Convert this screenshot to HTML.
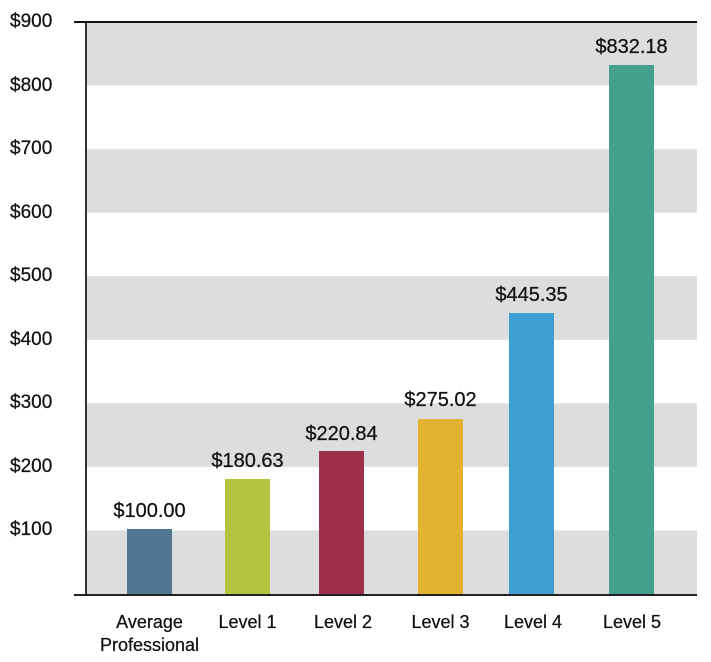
<!DOCTYPE html>
<html><head><meta charset="utf-8"><style>
html,body{margin:0;padding:0;background:#fff;}
svg{display:block;}
text{font-family:"Liberation Sans",sans-serif;fill:#111;stroke:#111;stroke-width:0.25;}
</style></head><body>
<svg width="711" height="662" viewBox="0 0 711 662" xmlns="http://www.w3.org/2000/svg">
<rect x="0" y="0" width="711" height="662" fill="#fff"/>
<g fill="#dcdddf">
<rect x="86" y="22" width="611" height="63.5"/>
<rect x="86" y="149.1" width="611" height="63.5"/>
<rect x="86" y="276.2" width="611" height="63.6"/>
<rect x="86" y="403.3" width="611" height="63.6"/>
<rect x="86" y="530.4" width="611" height="63.6"/>
</g>
<g font-size="19">
<text x="10" y="27">$900</text>
<text x="10" y="91">$800</text>
<text x="10" y="154">$700</text>
<text x="10" y="218">$600</text>
<text x="10" y="281">$500</text>
<text x="10" y="345">$400</text>
<text x="10" y="408">$300</text>
<text x="10" y="472">$200</text>
<text x="10" y="535">$100</text>
</g>
<rect x="127" y="529" width="45" height="65" fill="#4f7792"/>
<rect x="225" y="479" width="45" height="115" fill="#b5c43e"/>
<rect x="319" y="451" width="45" height="143" fill="#9e2f4d"/>
<rect x="418" y="419" width="45" height="175" fill="#e2b230"/>
<rect x="509" y="313" width="45" height="281" fill="#3d9fd2"/>
<rect x="609" y="65" width="45" height="529" fill="#44a08c"/>
<g font-size="20" text-anchor="middle">
<text x="149.5" y="517">$100.00</text>
<text x="247.5" y="467">$180.63</text>
<text x="341.5" y="440">$220.84</text>
<text x="440.5" y="406">$275.02</text>
<text x="531.5" y="301">$445.35</text>
<text x="631.5" y="53">$832.18</text>
</g>
<rect x="85" y="22" width="2" height="572" fill="#333"/>
<rect x="74" y="21" width="623" height="2" fill="#111"/>
<rect x="74" y="594" width="623" height="2" fill="#222"/>
<g font-size="18" text-anchor="middle">
<text x="149.5" y="628">Average</text>
<text x="149.5" y="651">Professional</text>
<text x="247.5" y="628">Level 1</text>
<text x="343" y="628">Level 2</text>
<text x="440.5" y="628">Level 3</text>
<text x="533" y="628">Level 4</text>
<text x="632" y="628">Level 5</text>
</g>
</svg>
</body></html>
